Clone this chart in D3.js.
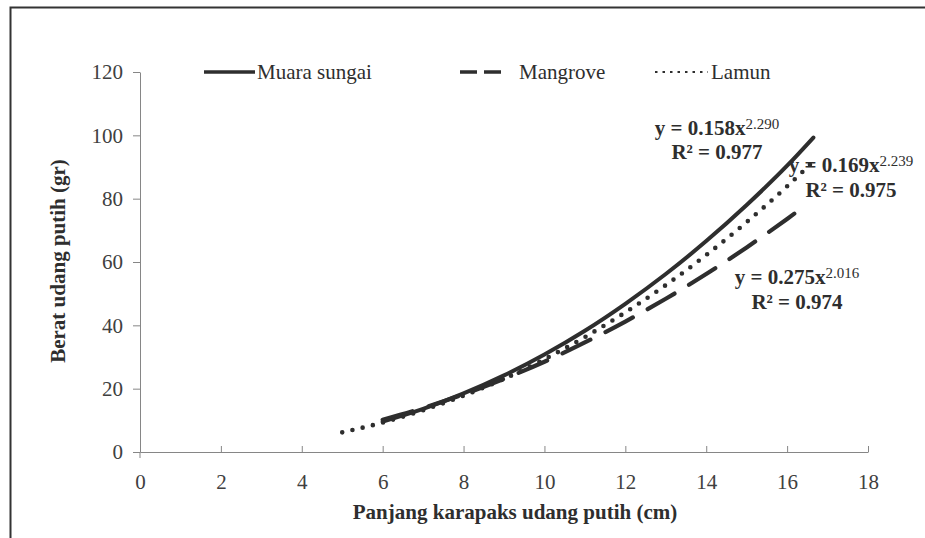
<!DOCTYPE html>
<html>
<head>
<meta charset="utf-8">
<script src="https://cdn.jsdelivr.net/npm/d3@7"></script>
<style>
  body { margin: 0; background: #fff; }
</style>
</head>
<body>
<svg width="925" height="538"></svg>
<script>
// series (x = carapace length cm, y = weight gr)
var muaraX = [6, 7, 8, 9, 10, 11, 12, 13, 14, 15, 16, 16.65];
var muaraY = [9.6, 13.6, 18.5, 24.2, 30.8, 38.3, 46.8, 56.2, 66.6, 78.0, 90.4, 99.3];
var mangroveX = [6, 7, 8, 9, 10, 11, 12, 13, 14, 15, 16, 16.3];
var mangroveY = [10.2, 13.9, 18.2, 23.1, 28.5, 34.6, 41.2, 48.4, 56.2, 64.6, 73.6, 76.4];
var lamunX = [5, 6, 7, 8, 9, 10, 11, 12, 13, 14, 15, 16, 16.7];
var lamunY = [6.2, 9.3, 13.2, 17.8, 23.1, 29.3, 36.3, 44.1, 52.7, 62.2, 72.6, 83.9, 92.4];

var seriesNames = ["Muara sungai", "Mangrove", "Lamun"];
var xTicks = [0, 2, 4, 6, 8, 10, 12, 14, 16, 18];
var yTicks = [0, 20, 40, 60, 80, 100, 120];

var equations = [
  { coef: "y = 0.158x", pow: "2.290", r2: "R² = 0.977" },
  { coef: "y = 0.169x", pow: "2.239", r2: "R² = 0.975" },
  { coef: "y = 0.275x", pow: "2.016", r2: "R² = 0.974" }
];

var serif = "'Liberation Serif', 'DejaVu Serif', serif";
var svg = d3.select("svg");
var ink = "#2e2e2e", axisCol = "#868686", tickText = "#404040";

// outer frame (top + left edges visible)
svg.append("path")
  .attr("d", "M10.5,538 L10.5,7.5 L925,7.5")
  .attr("fill", "none").attr("stroke", "#333").attr("stroke-width", 2);

var x = d3.scaleLinear().domain([0, 18]).range([140, 868]);
var y = d3.scaleLinear().domain([0, 120]).range([452, 72]);

// y axis
var yAxis = svg.append("g")
  .attr("transform", "translate(140,0)")
  .call(d3.axisLeft(y).tickValues(yTicks).tickSize(7).tickPadding(10).tickSizeOuter(0));
yAxis.select(".domain").attr("stroke", axisCol);
yAxis.selectAll(".tick line").attr("stroke", axisCol);
yAxis.selectAll("text").attr("fill", tickText)
  .style("font-family", serif).style("font-size", "21px");

// x axis, ticks pointing inward
var xAxis = svg.append("g")
  .attr("transform", "translate(0,452)")
  .call(d3.axisBottom(x).tickValues(xTicks).tickSize(-6).tickPadding(0).tickSizeOuter(0));
xAxis.select(".domain").attr("stroke", axisCol);
xAxis.selectAll(".tick line").attr("stroke", axisCol);
xAxis.selectAll("text").attr("fill", tickText)
  .style("font-family", serif).style("font-size", "21px")
  .attr("y", 30).attr("dy", "0.32em");
svg.append("line").attr("x1", 140).attr("x2", 140).attr("y1", 452).attr("y2", 458)
  .attr("stroke", axisCol);

// axis titles
svg.append("text")
  .attr("x", 515).attr("y", 512).attr("dy", "0.35em")
  .attr("text-anchor", "middle").attr("font-weight", "bold")
  .style("font-family", serif).style("font-size", "21px").attr("fill", ink)
  .text("Panjang karapaks udang putih (cm)");

svg.append("text")
  .attr("transform", "translate(58,261) rotate(-90)")
  .attr("dy", "0.35em")
  .attr("text-anchor", "middle").attr("font-weight", "bold")
  .style("font-family", serif).style("font-size", "21px").attr("fill", ink)
  .text("Berat udang putih (gr)");

// lines
var line = d3.line().curve(d3.curveMonotoneX)
  .x(function(d) { return x(d[0]); })
  .y(function(d) { return y(d[1]); });

var styles = [
  { dash: null, width: 4, cap: "round" },
  { dash: "31,17", width: 4.2, cap: "round" },
  { dash: "0,10.5", width: 4.6, cap: "round" }
];
var series = [d3.zip(muaraX, muaraY), d3.zip(mangroveX, mangroveY), d3.zip(lamunX, lamunY)];

series.forEach(function(s, i) {
  svg.append("path")
    .datum(s)
    .attr("fill", "none")
    .attr("stroke", ink)
    .attr("stroke-width", styles[i].width)
    .attr("stroke-linecap", styles[i].cap)
    .attr("stroke-dasharray", styles[i].dash)
    .attr("d", line);
});

// legend
var legendPos = [{ x1: 204, x2: 255, tx: 257 }, { x1: 460, x2: 501, tx: 519 }, { x1: 655, x2: 708, tx: 711 }];
var legendDash = [null, "17,7", "2.5,5"];
seriesNames.forEach(function(name, i) {
  var p = legendPos[i];
  svg.append("line")
    .attr("x1", p.x1).attr("x2", p.x2).attr("y1", 72).attr("y2", 72)
    .attr("stroke", ink)
    .attr("stroke-width", i === 2 ? 2 : 3.5)
    .attr("stroke-dasharray", legendDash[i]);
  svg.append("text")
    .attr("x", p.tx).attr("y", 72).attr("dy", "0.35em")
    .style("font-family", serif).style("font-size", "21px").attr("fill", ink)
    .text(name);
});

// trendline equations
var eqPos = [{ cx: 717, y1: 128, y2: 152 }, { cx: 851, y1: 165, y2: 190 }, { cx: 797, y1: 277, y2: 302 }];
equations.forEach(function(e, i) {
  var p = eqPos[i];
  var t = svg.append("text")
    .attr("x", p.cx).attr("y", p.y1).attr("dy", "0.35em")
    .attr("text-anchor", "middle").attr("font-weight", "bold")
    .style("font-family", serif).style("font-size", "21px").attr("fill", ink);
  t.append("tspan").text(e.coef);
  t.append("tspan").attr("dy", "-0.45em").style("font-size", "15px")
    .attr("font-weight", "normal").text(e.pow);
  svg.append("text")
    .attr("x", p.cx).attr("y", p.y2).attr("dy", "0.35em")
    .attr("text-anchor", "middle").attr("font-weight", "bold")
    .style("font-family", serif).style("font-size", "21px").attr("fill", ink)
    .text(e.r2);
});
</script>
</body>
</html>
